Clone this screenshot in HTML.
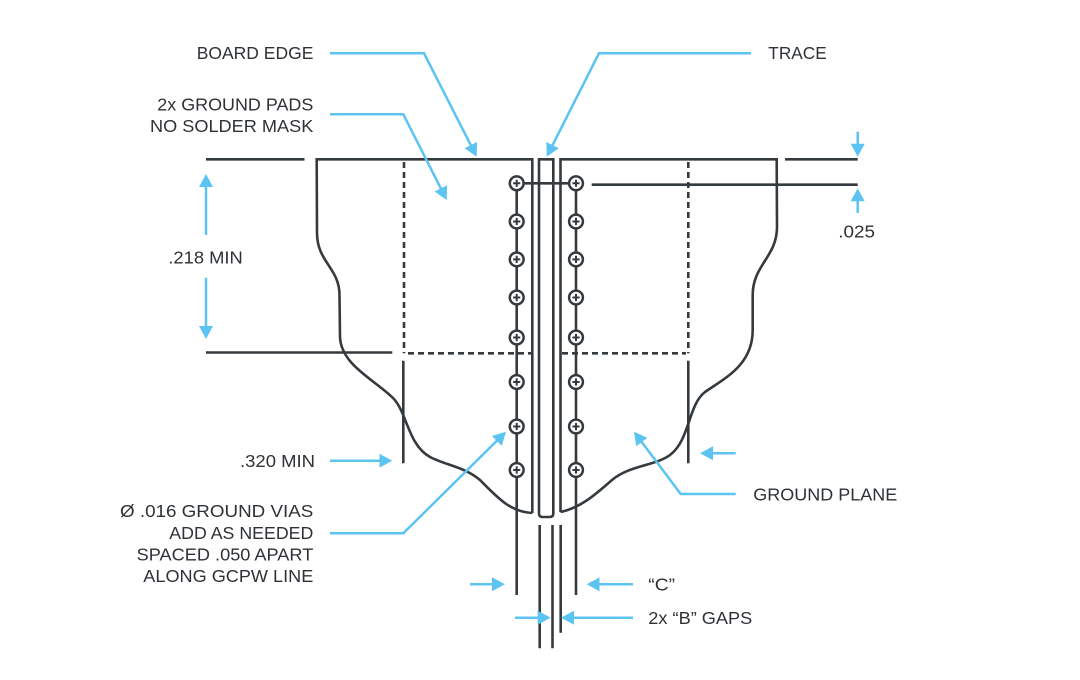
<!DOCTYPE html>
<html>
<head>
<meta charset="utf-8">
<style>
  html,body{margin:0;padding:0;background:#ffffff;}
  svg{display:block;}
  text{font-family:"Liberation Sans","DejaVu Sans",sans-serif;font-size:17.5px;fill:#2e3236;}
</style>
</head>
<body>
<svg width="1080" height="680" viewBox="0 0 1080 680" xmlns="http://www.w3.org/2000/svg">
  <defs>
    <marker id="a" markerUnits="userSpaceOnUse" markerWidth="13" markerHeight="14" viewBox="0 0 13 14" refX="5" refY="7" orient="auto">
      <path d="M0,0 L13,7 L0,14 Z" fill="#5bc4f1"/>
    </marker>
    <g id="via">
      <circle cx="0" cy="0" r="6.9" stroke-width="2.5" fill="#fff"/>
      <path d="M-3.6,0H3.6M0,-3.6V3.6" stroke-width="2"/>
    </g>
  </defs>

  <rect width="1080" height="680" fill="#fff"/>

  <!-- dark drawing -->
  <g stroke="#353a3e" stroke-width="2.6" fill="none" stroke-linecap="butt">
    <line x1="206" y1="159.3" x2="304.5" y2="159.3"/>
    <line x1="785" y1="159.3" x2="857.7" y2="159.3"/>
    <line x1="206" y1="352.5" x2="392.3" y2="352.5"/>
    <line x1="591.7" y1="184.7" x2="857.7" y2="184.7"/>

    <path d="M532.3,513 L532.3,159.3 L316.7,159.3 L317,233 C317,262 339.5,268 339.5,295 L340,337 C341,365 375,380 393,398 C407,412 408,445 430,457 C445,465 465,467 480,480 C497,497 510,512 532.3,513"/>
    <path d="M560.5,512 L560.5,159.3 L776.7,159.3 L777,227 C777,257 752.7,265 752.7,295 L752.7,330 C752.7,365 725,378 705,392 C688,405 690,440 670,455 C655,466 630,465 612,480 C595,495 580,508 560.5,512"/>
    <path d="M539,159.3 L539,513.5 Q539,517 542.5,517 L549.8,517 Q553.3,517 553.3,513.5 L553.3,159.3 Z"/>

    <g stroke-dasharray="6 4">
      <line x1="404" y1="162" x2="404" y2="353.3"/>
      <line x1="408" y1="353.3" x2="532" y2="353.3"/>
      <line x1="688.3" y1="162" x2="688.3" y2="353.3"/>
      <line x1="562" y1="353.3" x2="686" y2="353.3"/>
    </g>

    <line x1="403.3" y1="360.7" x2="403.3" y2="463.3"/>
    <line x1="688.3" y1="360.7" x2="688.3" y2="463.3"/>

    <line x1="539.7" y1="525" x2="539.7" y2="648.3"/>
    <line x1="552.5" y1="525" x2="552.5" y2="648.3"/>
    <line x1="560.7" y1="525" x2="560.7" y2="632.7"/>

    <line x1="516.7" y1="183.3" x2="516.7" y2="595"/>
    <line x1="576" y1="183.3" x2="576" y2="595"/>
    <line x1="516.7" y1="183.3" x2="576" y2="183.3"/>
  </g>

  <!-- vias -->
  <g stroke="#353a3e" fill="none">
    <use href="#via" x="516.7" y="183.3"/>
    <use href="#via" x="516.7" y="221.5"/>
    <use href="#via" x="516.7" y="259.4"/>
    <use href="#via" x="516.7" y="297.5"/>
    <use href="#via" x="516.7" y="337.5"/>
    <use href="#via" x="516.7" y="382"/>
    <use href="#via" x="516.7" y="426.5"/>
    <use href="#via" x="516.7" y="470"/>
    <use href="#via" x="576" y="183.3"/>
    <use href="#via" x="576" y="221.5"/>
    <use href="#via" x="576" y="259.4"/>
    <use href="#via" x="576" y="297.5"/>
    <use href="#via" x="576" y="337.5"/>
    <use href="#via" x="576" y="382"/>
    <use href="#via" x="576" y="426.5"/>
    <use href="#via" x="576" y="470"/>
  </g>

  <!-- blue leaders and dimension arrows -->
  <g stroke="#5bc4f1" stroke-width="2.5" fill="none" stroke-linejoin="miter">
    <polyline points="330,53.3 424,53.3 473.07,149.57" marker-end="url(#a)"/>
    <polyline points="330,114.3 403.3,114.3 443.09,192.86" marker-end="url(#a)"/>
    <polyline points="751,53.3 599,53.3 550.31,149.56" marker-end="url(#a)"/>
    <polyline points="735.7,494 680.7,494 638.8,438.1" marker-end="url(#a)"/>
    <polyline points="330,533.3 403.3,533.3 500.31,437.33" marker-end="url(#a)"/>

    <line x1="206" y1="235" x2="206" y2="182" marker-end="url(#a)"/>
    <line x1="206" y1="277.7" x2="206" y2="331" marker-end="url(#a)"/>
    <line x1="857.7" y1="131.7" x2="857.7" y2="148.7" marker-end="url(#a)"/>
    <line x1="857.7" y1="213" x2="857.7" y2="196.3" marker-end="url(#a)"/>
    <line x1="330" y1="460.7" x2="384.3" y2="460.7" marker-end="url(#a)"/>
    <line x1="735.7" y1="453.3" x2="708" y2="453.3" marker-end="url(#a)"/>
    <line x1="470" y1="584.3" x2="497" y2="584.3" marker-end="url(#a)"/>
    <line x1="633" y1="584.3" x2="594.7" y2="584.3" marker-end="url(#a)"/>
    <line x1="515" y1="617.7" x2="542.7" y2="617.7" marker-end="url(#a)"/>
    <line x1="633" y1="617.7" x2="569" y2="617.7" marker-end="url(#a)"/>
  </g>

  <!-- labels -->
  <text x="196.7" y="59" textLength="116.7" lengthAdjust="spacingAndGlyphs">BOARD EDGE</text>
  <text x="157.3" y="110.4" textLength="156" lengthAdjust="spacingAndGlyphs">2x GROUND PADS</text>
  <text x="150" y="132" textLength="163.3" lengthAdjust="spacingAndGlyphs">NO SOLDER MASK</text>
  <text x="768.3" y="59" textLength="58.4" lengthAdjust="spacingAndGlyphs">TRACE</text>
  <text x="168.3" y="263.6" textLength="74.5" lengthAdjust="spacingAndGlyphs">.218 MIN</text>
  <text x="838.3" y="237.3" textLength="36.7" lengthAdjust="spacingAndGlyphs">.025</text>
  <text x="240" y="467" textLength="75" lengthAdjust="spacingAndGlyphs">.320 MIN</text>
  <text x="753.3" y="500.6" textLength="144" lengthAdjust="spacingAndGlyphs">GROUND PLANE</text>
  <text x="120" y="517" textLength="193.3" lengthAdjust="spacingAndGlyphs">Ø .016 GROUND VIAS</text>
  <text x="169.3" y="539" textLength="144" lengthAdjust="spacingAndGlyphs">ADD AS NEEDED</text>
  <text x="136.7" y="560.6" textLength="176.6" lengthAdjust="spacingAndGlyphs">SPACED .050 APART</text>
  <text x="143.3" y="582" textLength="170" lengthAdjust="spacingAndGlyphs">ALONG GCPW LINE</text>
  <text x="648.3" y="590.5" textLength="26.7" lengthAdjust="spacingAndGlyphs">“C”</text>
  <text x="648.3" y="624.1" textLength="104" lengthAdjust="spacingAndGlyphs">2x “B” GAPS</text>
</svg>
</body>
</html>
